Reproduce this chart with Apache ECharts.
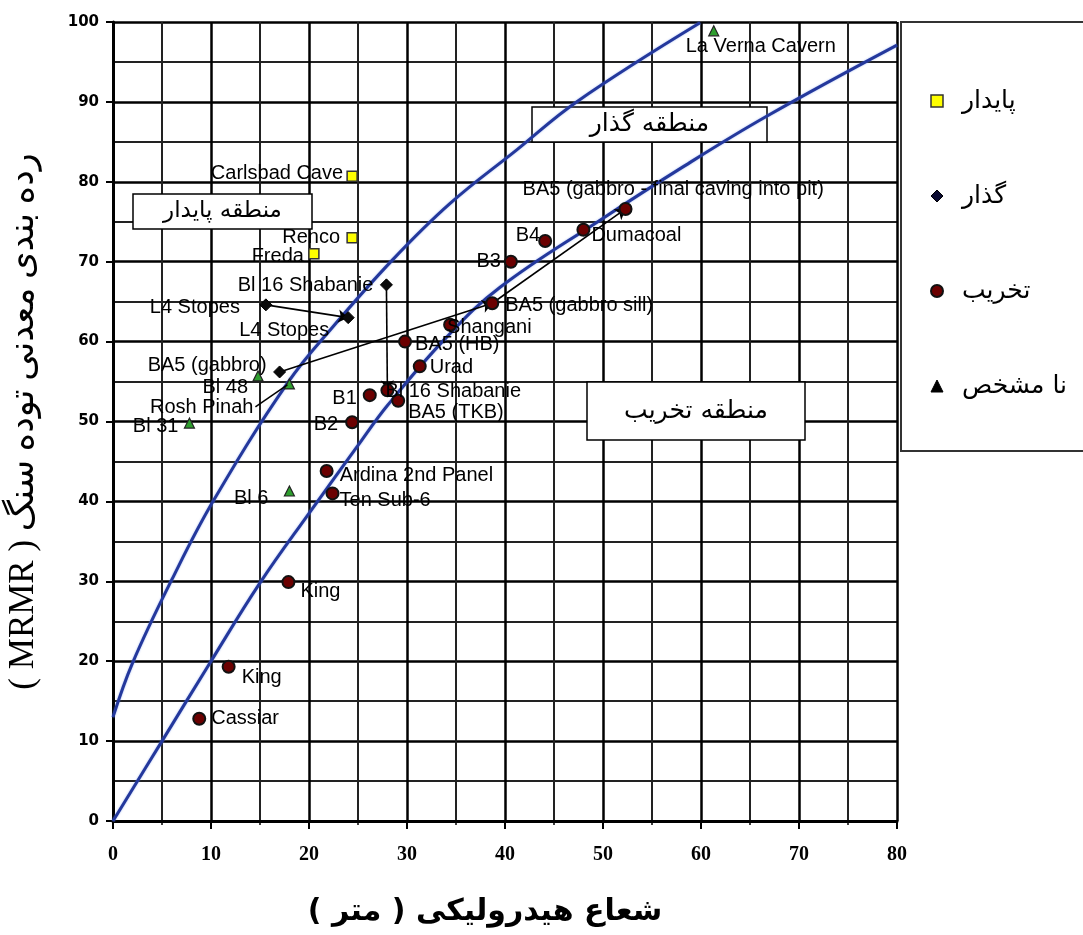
<!DOCTYPE html>
<html>
<head>
<meta charset="utf-8">
<script src="https://cdn.jsdelivr.net/npm/echarts@6/dist/echarts.min.js"></script>
<style>
  html, body { margin: 0; padding: 0; background: #fff; }
  #chart { width: 1083px; height: 935px; }
</style>
</head>
<body>
<div id="chart"></div>
<script>
// ---- Case histories: hydraulic radius (m) vs. MRMR ----
const stableNames = ['Carlsbad Cave', 'Renco', 'Freda'];
const stableX = [24.4, 24.4, 20.5];
const stableY = [80.7, 73.0, 71.0];

const transitionNames = ['Bl 16 Shabanie', 'L4 Stopes', 'L4 Stopes', 'BA5 (gabbro)'];
const transitionX = [27.9, 15.6, 24.0, 17.0];
const transitionY = [67.1, 64.6, 63.0, 56.2];

const cavingNames = ['B3', 'B4', 'Dumacoal', 'BA5 (gabbro - final caving into pit)', 'BA5 (gabbro sill)',
  'Shangani', 'BA5 (HB)', 'Urad', 'Bl 16 Shabanie', 'B1', 'BA5 (TKB)', 'B2',
  'Ardina 2nd Panel', 'Ten Sub-6', 'King', 'King', 'Cassiar'];
const cavingX = [40.6, 44.1, 48.0, 52.3, 38.7, 34.4, 29.8, 31.3, 28.0, 26.2, 29.1, 24.4, 21.8, 22.4, 17.9, 11.8, 8.8];
const cavingY = [70.0, 72.6, 74.0, 76.6, 64.8, 62.1, 60.0, 56.9, 53.9, 53.3, 52.6, 49.9, 43.8, 41.0, 29.9, 19.3, 12.8];

const unknownNames = ['La Verna Cavern', 'Bl 48', 'Rosh Pinah', 'Bl 31', 'Bl 6'];
const unknownX = [61.3, 14.8, 18.0, 7.8, 18.0];
const unknownY = [98.9, 55.7, 54.7, 49.8, 41.3];

// zone boundaries
const upperBoundX = [0, 2, 6, 10.3, 17.8, 22.4, 28.5, 34.4, 41.2, 47.3, 59.9];
const upperBoundY = [13, 19.8, 30.2, 40.2, 54.8, 61.8, 70.2, 77.3, 84.0, 90.0, 99.9];
const lowerBoundX = [0, 5, 10, 15, 20, 25, 28, 34, 39.5, 49.7, 58.2, 66.7, 80];
const lowerBoundY = [0, 10, 20, 29.8, 38.5, 47, 52, 60.5, 66.8, 75.2, 81.9, 88.2, 97.1];

// axis ranges
const xRange = [0, 80, 10];
const yRange = [0, 100, 10];

// legend / zone names
const seriesNames = ['پایدار', 'گذار', 'تخریب', 'نا مشخص'];
const zoneNames = ['منطقه پایدار', 'منطقه گذار', 'منطقه تخریب'];
const xTitle = '\u200Fشعاع هیدرولیکی ( متر )\u200F';
const yTitle = '( MRMR ) رده بندی معدنی توده سنگ';

// label placement (pixel offset from marker centre, alignment)
const stableLabelPos = [[-9, -3, 'right'], [-12, 0, 'right'], [-10, 3, 'right']];
const transitionLabelPos = [[-13, 1, 'right'], [-26, 3, 'right'], [-19, 13, 'right'], [-13, -6, 'right']];
const cavingLabelPos = [[-10, 0, 'right'], [-5, -5, 'right'], [8, 6, 'left'], [-103, -19, 'left'], [13, 2, 'left'],
  [-3, 3, 'left'], [10, 3, 'left'], [10, 1, 'left'], [-2, 1, 'left'], [-13, 3, 'right'], [10, 12, 'left'], [-14, 2, 'right'],
  [13, 4, 'left'], [7, 7, 'left'], [12, 9, 'left'], [13, 11, 'left'], [12, 0, 'left']];
const unknownLabelPos = [[-28, 16, 'left'], [-10, 12, 'right'], [-36, 24, 'right'], [-11, 3, 'right'], [-21, 7, 'right']];

function points(names, xs, ys, pos) {
  return names.map((n, i) => ({
    name: n,
    value: [xs[i], ys[i]],
    label: { offset: [pos[i][0], pos[i][1]], align: pos[i][2], verticalAlign: 'middle' }
  }));
}
function pairs(xs, ys) { return xs.map((x, i) => [x, ys[i]]); }

const pointLabel = {
  show: true, position: 'inside', formatter: '{b}', color: '#000',
  fontFamily: 'Liberation Sans, Arial, sans-serif', fontSize: 20, textBorderWidth: 0
};
const arabicFont = 'DejaVu Sans, sans-serif';

const chart = echarts.init(document.getElementById('chart'), null, { renderer: 'canvas' });

const arrowPairs = [
  [[transitionX[1], transitionY[1]], [transitionX[2], transitionY[2]]],
  [[transitionX[0], transitionY[0]], [cavingX[8], cavingY[8]]],
  [[transitionX[3], transitionY[3]], [cavingX[4], cavingY[4]]],
  [[cavingX[4], cavingY[4]], [cavingX[3], cavingY[3]]]
];

const option = {
  animation: false,
  backgroundColor: '#fff',
  grid: { left: 113, right: 186, top: 22, bottom: 114, outerBoundsMode: 'none', containLabel: false },
  xAxis: {
    type: 'value', min: xRange[0], max: xRange[1], interval: xRange[2],
    name: xTitle, nameLocation: 'middle', nameGap: 76,
    nameTextStyle: { fontFamily: arabicFont, fontSize: 30, fontWeight: 'bold', color: '#000', padding: [0, 40, 0, 0] },
    axisLine: { show: true, onZero: false, lineStyle: { color: '#000', width: 3 } },
    axisTick: { show: true, length: 8, lineStyle: { color: '#000', width: 2 } },
    minorTick: { show: true, splitNumber: 2, length: 4, lineStyle: { color: '#000', width: 1.5 } },
    axisLabel: { color: '#000', fontFamily: 'Liberation Serif, serif', fontWeight: 'bold', fontSize: 20, margin: 24 },
    splitLine: { show: true, lineStyle: { color: '#000', width: 2.5 } },
    minorSplitLine: { show: true, lineStyle: { color: '#222', width: 2 } }
  },
  yAxis: {
    type: 'value', min: yRange[0], max: yRange[1], interval: yRange[2],
    name: yTitle, nameLocation: 'middle', nameGap: 72, nameRotate: 90,
    nameTextStyle: { fontFamily: 'Liberation Serif, DejaVu Sans, serif', fontSize: 35, color: '#000' },
    axisLine: { show: true, onZero: false, lineStyle: { color: '#000', width: 3 } },
    axisTick: { show: true, length: 7, lineStyle: { color: '#000', width: 2 } },
    axisLabel: { color: '#000', fontFamily: 'DejaVu Sans, sans-serif', fontWeight: 'bold', fontSize: 15, margin: 14 },
    splitLine: { show: true, lineStyle: { color: '#000', width: 2.5 } },
    minorTick: { show: false, splitNumber: 2 },
    minorSplitLine: { show: true, lineStyle: { color: '#222', width: 2 } }
  },
  legend: {
    orient: 'vertical', left: 925, top: 81, itemGap: 65, itemWidth: 12, itemHeight: 12,
    selectedMode: false,
    textStyle: { fontFamily: arabicFont, fontSize: 25, lineHeight: 30, color: '#000', padding: [0, 0, 0, 14] },
    data: [
      { name: seriesNames[0], icon: 'rect', itemStyle: { color: '#ffff00', borderColor: '#333', borderWidth: 1.5 } },
      { name: seriesNames[1], icon: 'diamond', itemStyle: { color: '#0a0a30', borderColor: '#000', borderWidth: 1 } },
      { name: seriesNames[2], icon: 'circle', itemStyle: { color: '#6b0000', borderColor: '#111', borderWidth: 2 } },
      { name: seriesNames[3], icon: 'triangle', itemStyle: { color: '#000', borderColor: '#000', borderWidth: 1 } }
    ]
  },
  series: [
    {
      type: 'line', name: 'upper', data: pairs(upperBoundX, upperBoundY), smooth: 0.4,
      showSymbol: false, silent: true, z: 2,
      lineStyle: { color: '#24389c', width: 3, shadowColor: 'rgba(90,130,230,0.6)', shadowBlur: 2 }
    },
    {
      type: 'line', name: 'lower', data: pairs(lowerBoundX, lowerBoundY), smooth: 0.4,
      showSymbol: false, silent: true, z: 2,
      lineStyle: { color: '#24389c', width: 3, shadowColor: 'rgba(90,130,230,0.6)', shadowBlur: 2 }
    },
    {
      type: 'lines', coordinateSystem: 'cartesian2d', silent: true, z: 3,
      symbol: ['none', 'arrow'], symbolSize: 10,
      lineStyle: { color: '#000', width: 1.6, opacity: 1 },
      data: arrowPairs.map(c => ({ coords: c }))
    },
    {
      type: 'scatter', name: seriesNames[0], symbol: 'rect', symbolSize: 10, z: 5,
      itemStyle: { color: '#ffff00', borderColor: '#333', borderWidth: 1.5, opacity: 1 },
      label: pointLabel,
      data: points(stableNames, stableX, stableY, stableLabelPos)
    },
    {
      type: 'scatter', name: seriesNames[1], symbol: 'diamond', symbolSize: 12, z: 5,
      itemStyle: { color: '#0a0a0a', borderColor: '#000', borderWidth: 1, opacity: 1 },
      label: pointLabel,
      data: points(transitionNames, transitionX, transitionY, transitionLabelPos)
    },
    {
      type: 'scatter', name: seriesNames[2], symbol: 'circle', symbolSize: 12, z: 5,
      itemStyle: { color: '#6b0000', borderColor: '#111', borderWidth: 2, opacity: 1 },
      label: pointLabel,
      data: points(cavingNames, cavingX, cavingY, cavingLabelPos)
    },
    {
      type: 'scatter', name: seriesNames[3], symbol: 'triangle', symbolSize: 10, z: 5,
      itemStyle: { color: '#2e9e2e', borderColor: '#222', borderWidth: 1.2, opacity: 1 },
      label: pointLabel,
      data: points(unknownNames, unknownX, unknownY, unknownLabelPos)
    }
  ]
};

chart.setOption(option);

// zone boxes, legend frame and the Rosh Pinah leader line
function zoneBox(text, x, y, w, h, size) {
  return {
    type: 'group', x: x, y: y, z: 20,
    children: [
      { type: 'rect', shape: { x: 0, y: 0, width: w, height: h }, style: { fill: '#fff', stroke: '#000', lineWidth: 1.5 } },
      { type: 'text', x: w / 2, y: h / 2, style: { text: text, fill: '#000', font: size + 'px ' + arabicFont, align: 'center', verticalAlign: 'middle' } }
    ]
  };
}
const rosh = chart.convertToPixel({ gridIndex: 0 }, [unknownX[2], unknownY[2]]);
chart.setOption({
  graphic: [
    { type: 'rect', z: 0, shape: { x: 901, y: 22, width: 200, height: 429 }, style: { fill: '#fff', stroke: '#333', lineWidth: 2 } },
    zoneBox(zoneNames[0], 133, 194, 179, 35, 23),
    zoneBox(zoneNames[1], 532, 107, 235, 35, 25),
    zoneBox(zoneNames[2], 587, 382, 218, 58, 25),
    {
      type: 'line', z: 6,
      shape: { x1: rosh[0] - 2, y1: rosh[1] + 1, x2: rosh[0] + unknownLabelPos[2][0] + 2, y2: rosh[1] + unknownLabelPos[2][1] - 1 },
      style: { stroke: '#000', lineWidth: 1.5 }
    }
  ]
});
</script>
</body>
</html>
